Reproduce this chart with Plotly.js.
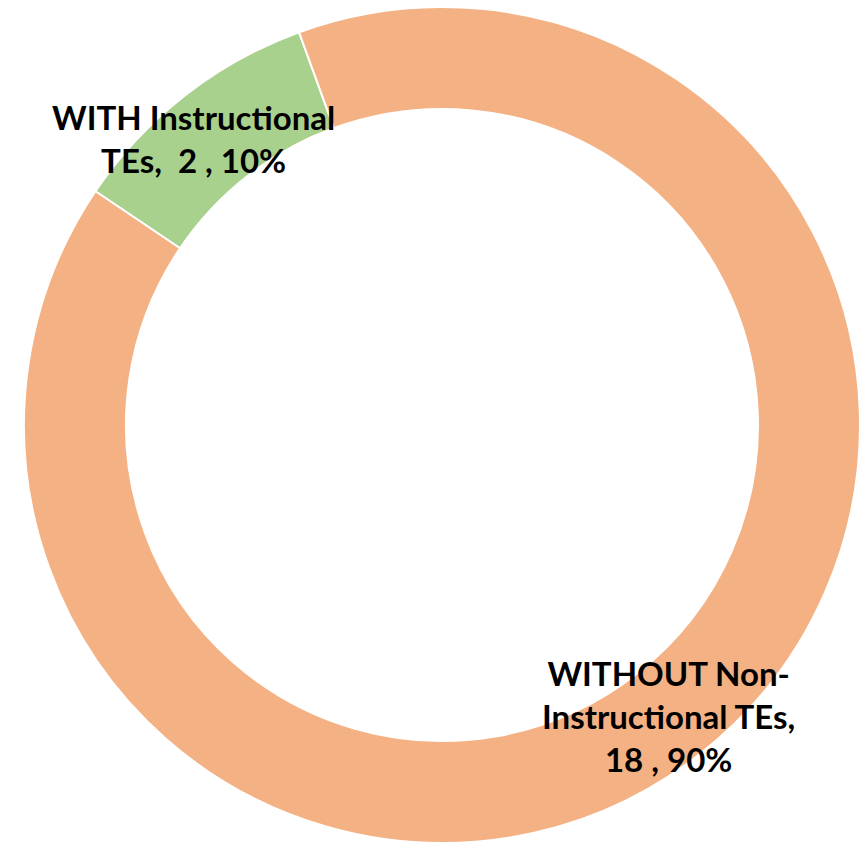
<!DOCTYPE html>
<html>
<head>
<meta charset="utf-8">
<script src="https://cdn.plot.ly/plotly-3.0.1.min.js"></script>
<style>html,body{margin:0;padding:0;background:#fff;}#chart{width:863px;height:843px;}</style>
</head>
<body>
<div id="chart"></div>
<script>
const categories = ["WITH Instructional TEs", "WITHOUT Non-Instructional TEs"];
const values = [2, 18];
const colors = ["#A9D18E", "#F4B183"];
const labelLines = [
  ["WITH Instructional", "TEs,  2 , 10%"],
  ["WITHOUT Non-", "Instructional TEs,", "18 , 90%"]
];

const trace = {
  type: "pie",
  labels: categories,
  values: values,
  sort: false,
  direction: "clockwise",
  rotation: -56,
  hole: 0.756,
  textinfo: "none",
  hoverinfo: "label+value+percent",
  marker: { colors: colors, line: { color: "#ffffff", width: 2 } },
  showlegend: false
};

const font = { family: "Lato, 'Open Sans', sans-serif", size: 33, color: "#000000" };

const layout = {
  width: 863, height: 843,
  margin: { l: 24, r: 3, t: 7, b: 0, pad: 0 },
  paper_bgcolor: "#ffffff",
  plot_bgcolor: "#ffffff",
  showlegend: false,
  annotations: [
    { text: "<b>" + labelLines[0].join("<br>") + "</b>", x: 193, y: 843 - 138, xref: "paper", yref: "paper",
      showarrow: false, font: font, align: "center", xanchor: "center", yanchor: "middle" },
    { text: "<b>" + labelLines[1].join("<br>") + "</b>", x: 668, y: 843 - 716, xref: "paper", yref: "paper",
      showarrow: false, font: font, align: "center", xanchor: "center", yanchor: "middle" }
  ]
};

// convert pixel positions for annotations to paper coords
const plotW = 863 - 24 - 3, plotH = 843 - 7 - 0;
layout.annotations.forEach(a => {
  a.x = (a.x - 24) / plotW;
  a.y = (a.y - 0) / plotH;
});

Plotly.newPlot("chart", [trace], layout, { displayModeBar: false, staticPlot: true });
</script>
</body>
</html>
